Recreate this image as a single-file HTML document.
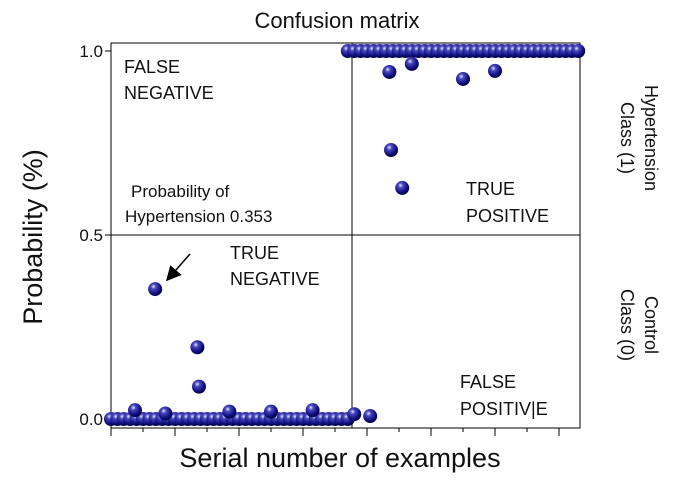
<!DOCTYPE html>
<html><head><meta charset="utf-8"><style>
body{margin:0;background:#fff}
svg text{font-family:"Liberation Sans",Arial,sans-serif;fill:#111}
</style></head><body>
<svg width="674" height="481">
<defs>
<radialGradient id="ball" cx="0.38" cy="0.32" r="0.7">
<stop offset="0" stop-color="#e8e8ff"/><stop offset="0.25" stop-color="#4a4ac0"/><stop offset="0.7" stop-color="#101080"/><stop offset="1" stop-color="#000040"/>
</radialGradient>
<marker id="ah" markerWidth="10" markerHeight="10" refX="8" refY="5" orient="auto"><path d="M0,0 L10,5 L0,10 z" fill="#000"/></marker>
</defs>
<g id="plot"></g>
</svg>
<script>
const lowX=[0,2,4,6,8,10,12,14,16,18,20,22,24,26,28,30,32,34,36,38,40,42,44,46,48,50,52,54,56,58,60,62,64,66,68,70,72,74];
const lowY=[0,0,0,0,0,0,0,0,0,0,0,0,0,0,0,0,0,0,0,0,0,0,0,0,0,0,0,0,0,0,0,0,0,0,0,0,0,0];
const highX=[74,76,78,80,82,84,86,88,90,92,94,96,98,100,102,104,106,108,110,112,114,116,118,120,122,124,126,128,130,132,134,136,138,140,142,144,146];
const highY=[1,1,1,1,1,1,1,1,1,1,1,1,1,1,1,1,1,1,1,1,1,1,1,1,1,1,1,1,1,1,1,1,1,1,1,1,1];
const extraX=[7.5,17,27,27.5,13.8,37,50,63,76,81,87,87.5,91,94,110,120];
const extraY=[0.024,0.015,0.195,0.088,0.353,0.02,0.02,0.024,0.013,0.008,0.943,0.731,0.628,0.965,0.924,0.946];
const yTicks=[0,0.5,1];
const yTickLabels=["0.0","0.5","1.0"];
const X0=111,X1=580,Y0=428,Y1=43;
const xs=v=>X0+v*3.2;
const ys=v=>419-v*368;
const NS="http://www.w3.org/2000/svg";
const g=document.getElementById('plot');
function mk(t,a,txt){const e=document.createElementNS(NS,t);for(const k in a)e.setAttribute(k,a[k]);if(txt!==undefined)e.textContent=txt;g.appendChild(e);return e;}
let e=mk('rect',{x:X0,y:Y1,width:X1-X0,height:Y0-Y1,fill:'none',stroke:'#000','stroke-width':1});


e=mk('line',{x1:X0,x2:X1,y1:ys(0.5),y2:ys(0.5),stroke:'#000'});


e=mk('line',{x1:352,x2:352,y1:Y1,y2:Y0,stroke:'#000'});


yTicks.forEach((t,i)=>{
 e=mk('line',{x1:X0-6,x2:X0,y1:ys(t),y2:ys(t),stroke:'#000'});
 
 
 e=mk('text',{x:X0-8,y:ys(t)+6,'text-anchor':'end','font-size':17},yTickLabels[i]);
 
 
});
for(let k=0;k<=14;k++){
 const x=X0+k*32; if(x>X1)break;
 e=mk('line',{x1:x,x2:x,y1:Y0,y2:Y0+(k%2?4:8),stroke:'#000'});
 
 
}
function dot(x,y){
 const c=mk('circle',{cx:xs(x),cy:ys(y),r:7,fill:'url(#ball)'});
 
 
}
lowX.forEach((x,i)=>dot(x,lowY[i]));
highX.forEach((x,i)=>dot(x,highY[i]));
extraX.forEach((x,i)=>dot(x,extraY[i]));
function txt(name,x,y,s,size,anchor,rot){
 const a={x:x,y:y,'font-size':size,'text-anchor':anchor||'start'};
 if(rot)a.transform=rot;
 const t=mk('text',a,s);
 
 
}
txt('chart-title',337,28,'Confusion matrix',22,'middle');
txt('x-axis-title',340,467,'Serial number of examples',27,'middle');
txt('y-axis-title',42,237,'Probability (%)',27,'middle','rotate(-90 42 237)');
txt('false-negative-label',124,73,'FALSE',18);
txt('false-negative-label-2',124,99,'NEGATIVE',18);
txt('true-negative-label',230,259,'TRUE',18);
txt('true-negative-label-2',230,285,'NEGATIVE',18);
txt('true-positive-label',466,195,'TRUE',18);
txt('true-positive-label-2',466,222,'POSITIVE',18);
txt('false-positive-label',460,388,'FALSE',18);
txt('false-positive-label-2',460,415,'POSITIV|E',18);
txt('annotation-line-1',131,197,'Probability of',17);
txt('annotation-line-2',125,222,'Hypertension 0.353',17);
txt('class1-label',645,138,'Hypertension',18,'middle','rotate(90 645 138)');
txt('class1-label-2',621,138,'Class (1)',18,'middle','rotate(90 621 138)');
txt('class0-label',645,325,'Control',18,'middle','rotate(90 645 325)');
txt('class0-label-2',621,325,'Class (0)',18,'middle','rotate(90 621 325)');
e=mk('line',{x1:190,y1:254,x2:168,y2:279,stroke:'#000','stroke-width':1.5,'marker-end':'url(#ah)'});


</script>
</body></html>
